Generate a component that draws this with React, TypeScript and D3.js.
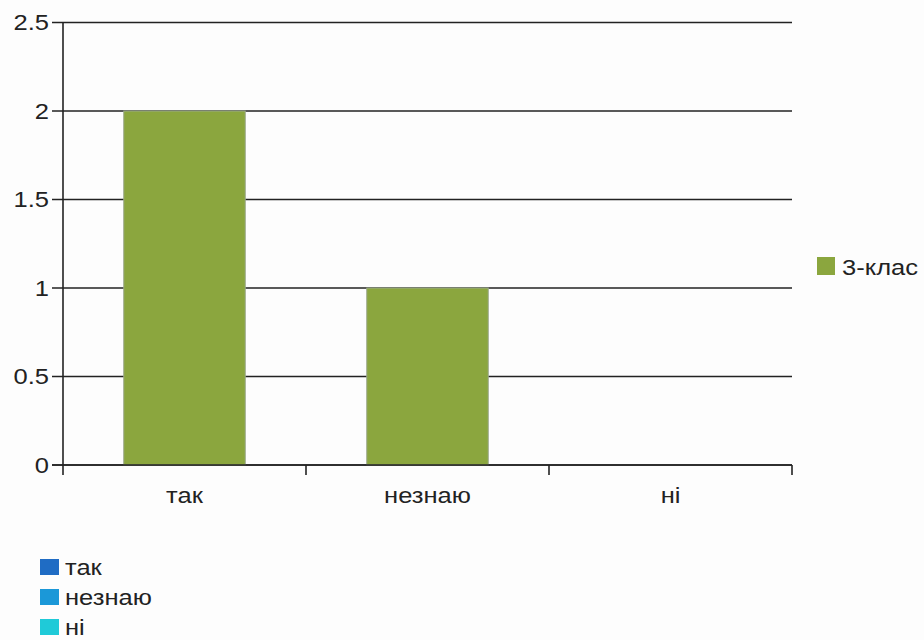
import React from "react";
import * as d3 from "d3";

const categories = ["так", "незнаю", "ні"];
const values = [2, 1, 0];
const yTicks = [0, 0.5, 1, 1.5, 2, 2.5];
const seriesName = "3-клас";
const bottomLegend = ["так", "незнаю", "ні"];
const bottomColors = ["#1f6cc4", "#1b98d8", "#1fcad8"];

const SX = 1.16;

function T(props: { x: number; y: number; anchor?: "start" | "middle" | "end"; children: React.ReactNode; dy?: string }) {
  return (
    <text transform={`translate(${props.x},${props.y}) scale(${SX},1)`} dy={props.dy} textAnchor={props.anchor || "start"}
      fontSize={22} fill="#222">{props.children}</text>
  );
}

export default function App() {
  const W = 924, H = 640;
  const left = 63, right = 792, top = 22.5, bottom = 465;
  const x = d3.scaleBand<string>().domain(categories).range([left, right]).paddingInner(0).paddingOuter(0);
  const y = d3.scaleLinear().domain([0, 2.5]).range([bottom, top]);
  const bw = x.bandwidth();
  const font = "Liberation Sans, Arial, sans-serif";
  return (
    <svg width={W} height={H} style={{ position: "absolute", left: 0, top: 0 }} fontFamily={font}>
      <rect width={W} height={H} fill="#fdfdfd" />
      {yTicks.map((t) => (
        <g key={t}>
          <line x1={52} x2={right} y1={y(t)} y2={y(t)} stroke="#222" strokeWidth={1.6} />
          <T x={49} y={y(t)} dy="0.36em" anchor="end">{t}</T>
        </g>
      ))}
      {categories.map((c, i) => (
        <rect key={c} x={x(c)! + bw / 4} y={y(values[i])} width={bw / 2} height={y(0) - y(values[i])}
          fill="#8ba63e" stroke="#9aa88a" strokeWidth={1} />
      ))}
      <line x1={left} x2={left} y1={top} y2={bottom + 10} stroke="#222" strokeWidth={1.6} />
      <line x1={52} x2={right} y1={bottom} y2={bottom} stroke="#222" strokeWidth={1.6} />
      {categories.map((c) => (
        <line key={c} x1={x(c)! + bw} x2={x(c)! + bw} y1={bottom} y2={bottom + 10} stroke="#222" strokeWidth={1.6} />
      ))}
      {categories.map((c) => (
        <T key={c} x={x(c)! + bw / 2} y={503} anchor="middle">{c}</T>
      ))}
      <rect x={817} y={257} width={18} height={18} fill="#8ba63e" />
      <T x={842} y={275}>{seriesName}</T>
      {bottomLegend.map((s, i) => (
        <g key={s}>
          <rect x={40} y={559 + i * 30} width={19} height={16} fill={bottomColors[i]} />
          <T x={65} y={575 + i * 30}>{s}</T>
        </g>
      ))}
    </svg>
  );
}
